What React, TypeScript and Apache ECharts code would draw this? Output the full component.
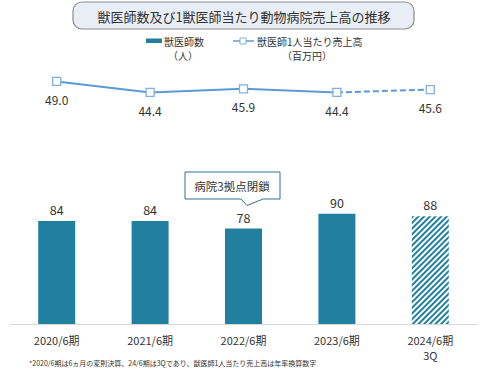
import React, { useEffect, useRef } from "react";
import * as echarts from "echarts";

const categories = ["2020/6期", "2021/6期", "2022/6期", "2023/6期", "2024/6期\n3Q"];
const vetCounts = [84, 84, 78, 90, 88];
const salesPerVet = [49.0, 44.4, 45.9, 44.4, 45.6];
const titleText = "獣医師数及び1獣医師当たり動物病院売上高の推移";
const legendBar = ["獣医師数", "（人）"];
const legendLine = ["獣医師1人当たり売上高", "（百万円）"];
const calloutText = "病院3拠点閉鎖";
const footnote = "*2020/6期は6ヵ月の変則決算、24/6期は3Qであり、獣医師1人当たり売上高は年率換算数字";

const FONT = "'Noto Sans CJK JP', 'Noto Sans', sans-serif";
const BAR = "#21809f";
const LINE = "#5b9bd5";
const MARK = "#7fb0de";
const TXT = "#333333";

export default function App() {
  const ref = useRef<HTMLDivElement>(null);
  useEffect(() => {
    document.body.style.margin = "0";
    const chart = echarts.init(ref.current!, undefined, { renderer: "svg" });
    const lastIdx = categories.length - 1;
    const solid = salesPerVet.map((v, i) => (i < lastIdx ? v : "-"));
    const dashed = salesPerVet.map((v, i) =>
      i < lastIdx - 1 ? "-" : i === lastIdx - 1 ? { value: v, symbol: "none", label: { show: false } } : v
    );
    const barData = vetCounts.map((v, i) =>
      i === lastIdx
        ? {
            value: v,
            itemStyle: {
              color: "#ffffff",
              decal: {
                symbol: "rect",
                color: BAR,
                backgroundColor: "#ffffff",
                dashArrayX: [1, 0],
                dashArrayY: [1.5, 1.4],
                rotation: -Math.PI / 4,
              },
            },
          }
        : v
    );
    const lineLabel = {
      show: true,
      position: "bottom",
      distance: 7,
      color: TXT,
      fontSize: 12,
      fontFamily: FONT,
      formatter: (p: any) => Number(p.value).toFixed(1),
    };
    chart.setOption({
      animation: false,
      textStyle: { fontFamily: FONT },
      grid: [
        { left: 10, right: 10, top: 55, height: 72 },
        { left: 10, right: 10, top: 177, bottom: 48 },
      ],
      xAxis: [
        { type: "category", gridIndex: 0, data: categories, show: false, boundaryGap: true },
        {
          type: "category",
          gridIndex: 1,
          data: categories,
          boundaryGap: true,
          axisLine: { lineStyle: { color: "#d9d9d9", width: 1 } },
          axisTick: { show: false },
          axisLabel: { color: TXT, fontSize: 11, fontFamily: FONT, margin: 8, lineHeight: 15, interval: 0 },
        },
      ],
      yAxis: [
        { type: "value", gridIndex: 0, min: 30, max: 60, show: false },
        { type: "value", gridIndex: 1, min: 0, max: 120, show: false },
      ],
      series: [
        {
          type: "bar",
          xAxisIndex: 1,
          yAxisIndex: 1,
          data: barData,
          barWidth: 37,
          itemStyle: { color: BAR },
          label: { show: true, position: "top", distance: 5, color: TXT, fontSize: 12.5, fontFamily: FONT },
        },
        {
          type: "line",
          xAxisIndex: 0,
          yAxisIndex: 0,
          data: dashed,
          z: 2,
          symbol: "rect",
          symbolSize: 8,
          lineStyle: { color: LINE, width: 2, type: [6, 3] },
          itemStyle: { color: "#ffffff", borderColor: MARK, borderWidth: 1.3 },
          label: lineLabel,
        },
        {
          type: "line",
          xAxisIndex: 0,
          yAxisIndex: 0,
          data: solid,
          z: 3,
          symbol: "rect",
          symbolSize: 8,
          showAllSymbol: true,
          lineStyle: { color: LINE, width: 2 },
          itemStyle: { color: "#ffffff", borderColor: MARK, borderWidth: 1.3 },
          label: lineLabel,
        },
      ],
      graphic: [
        {
          type: "rect",
          shape: { x: 73, y: 2, width: 341, height: 27, r: 9 },
          style: { fill: "#e9eef6", stroke: "#8c8c8c", lineWidth: 1.2 },
        },
        {
          type: "text",
          x: 244,
          y: 16,
          style: { text: titleText, fill: TXT, fontSize: 13, fontFamily: FONT, align: "center", verticalAlign: "middle" },
        },
        { type: "rect", shape: { x: 146, y: 38.5, width: 16, height: 4.5 }, style: { fill: BAR } },
        {
          type: "text",
          x: 164,
          y: 41,
          style: { text: legendBar[0], fill: TXT, fontSize: 10, fontFamily: FONT, align: "left", verticalAlign: "middle" },
        },
        {
          type: "text",
          x: 183,
          y: 55,
          style: { text: legendBar[1], fill: TXT, fontSize: 10, fontFamily: FONT, align: "center", verticalAlign: "middle" },
        },
        { type: "line", shape: { x1: 233, y1: 41, x2: 254, y2: 41 }, style: { stroke: LINE, lineWidth: 1.5 } },
        { type: "rect", shape: { x: 240, y: 38, width: 6, height: 6 }, style: { fill: "#ffffff", stroke: MARK, lineWidth: 1 } },
        {
          type: "text",
          x: 257,
          y: 41,
          style: { text: legendLine[0], fill: TXT, fontSize: 10, fontFamily: FONT, align: "left", verticalAlign: "middle" },
        },
        {
          type: "text",
          x: 307,
          y: 55,
          style: { text: legendLine[1], fill: TXT, fontSize: 10, fontFamily: FONT, align: "center", verticalAlign: "middle" },
        },
        {
          type: "polygon",
          shape: {
            points: [
              [185, 172],
              [280, 172],
              [280, 199],
              [263, 199],
              [247, 205.5],
              [241, 199],
              [185, 199],
            ],
          },
          style: { fill: "#ffffff", stroke: "#2f7290", lineWidth: 1 },
        },
        {
          type: "text",
          x: 232,
          y: 186,
          style: { text: calloutText, fill: TXT, fontSize: 11.5, fontFamily: FONT, align: "center", verticalAlign: "middle" },
        },
        {
          type: "text",
          x: 29,
          y: 363,
          style: { text: footnote, fill: TXT, fontSize: 7, fontFamily: FONT, align: "left", verticalAlign: "middle" },
        },
      ],
    });
    return () => chart.dispose();
  }, []);
  return <div ref={ref} style={{ width: 487, height: 372 }} />;
}
